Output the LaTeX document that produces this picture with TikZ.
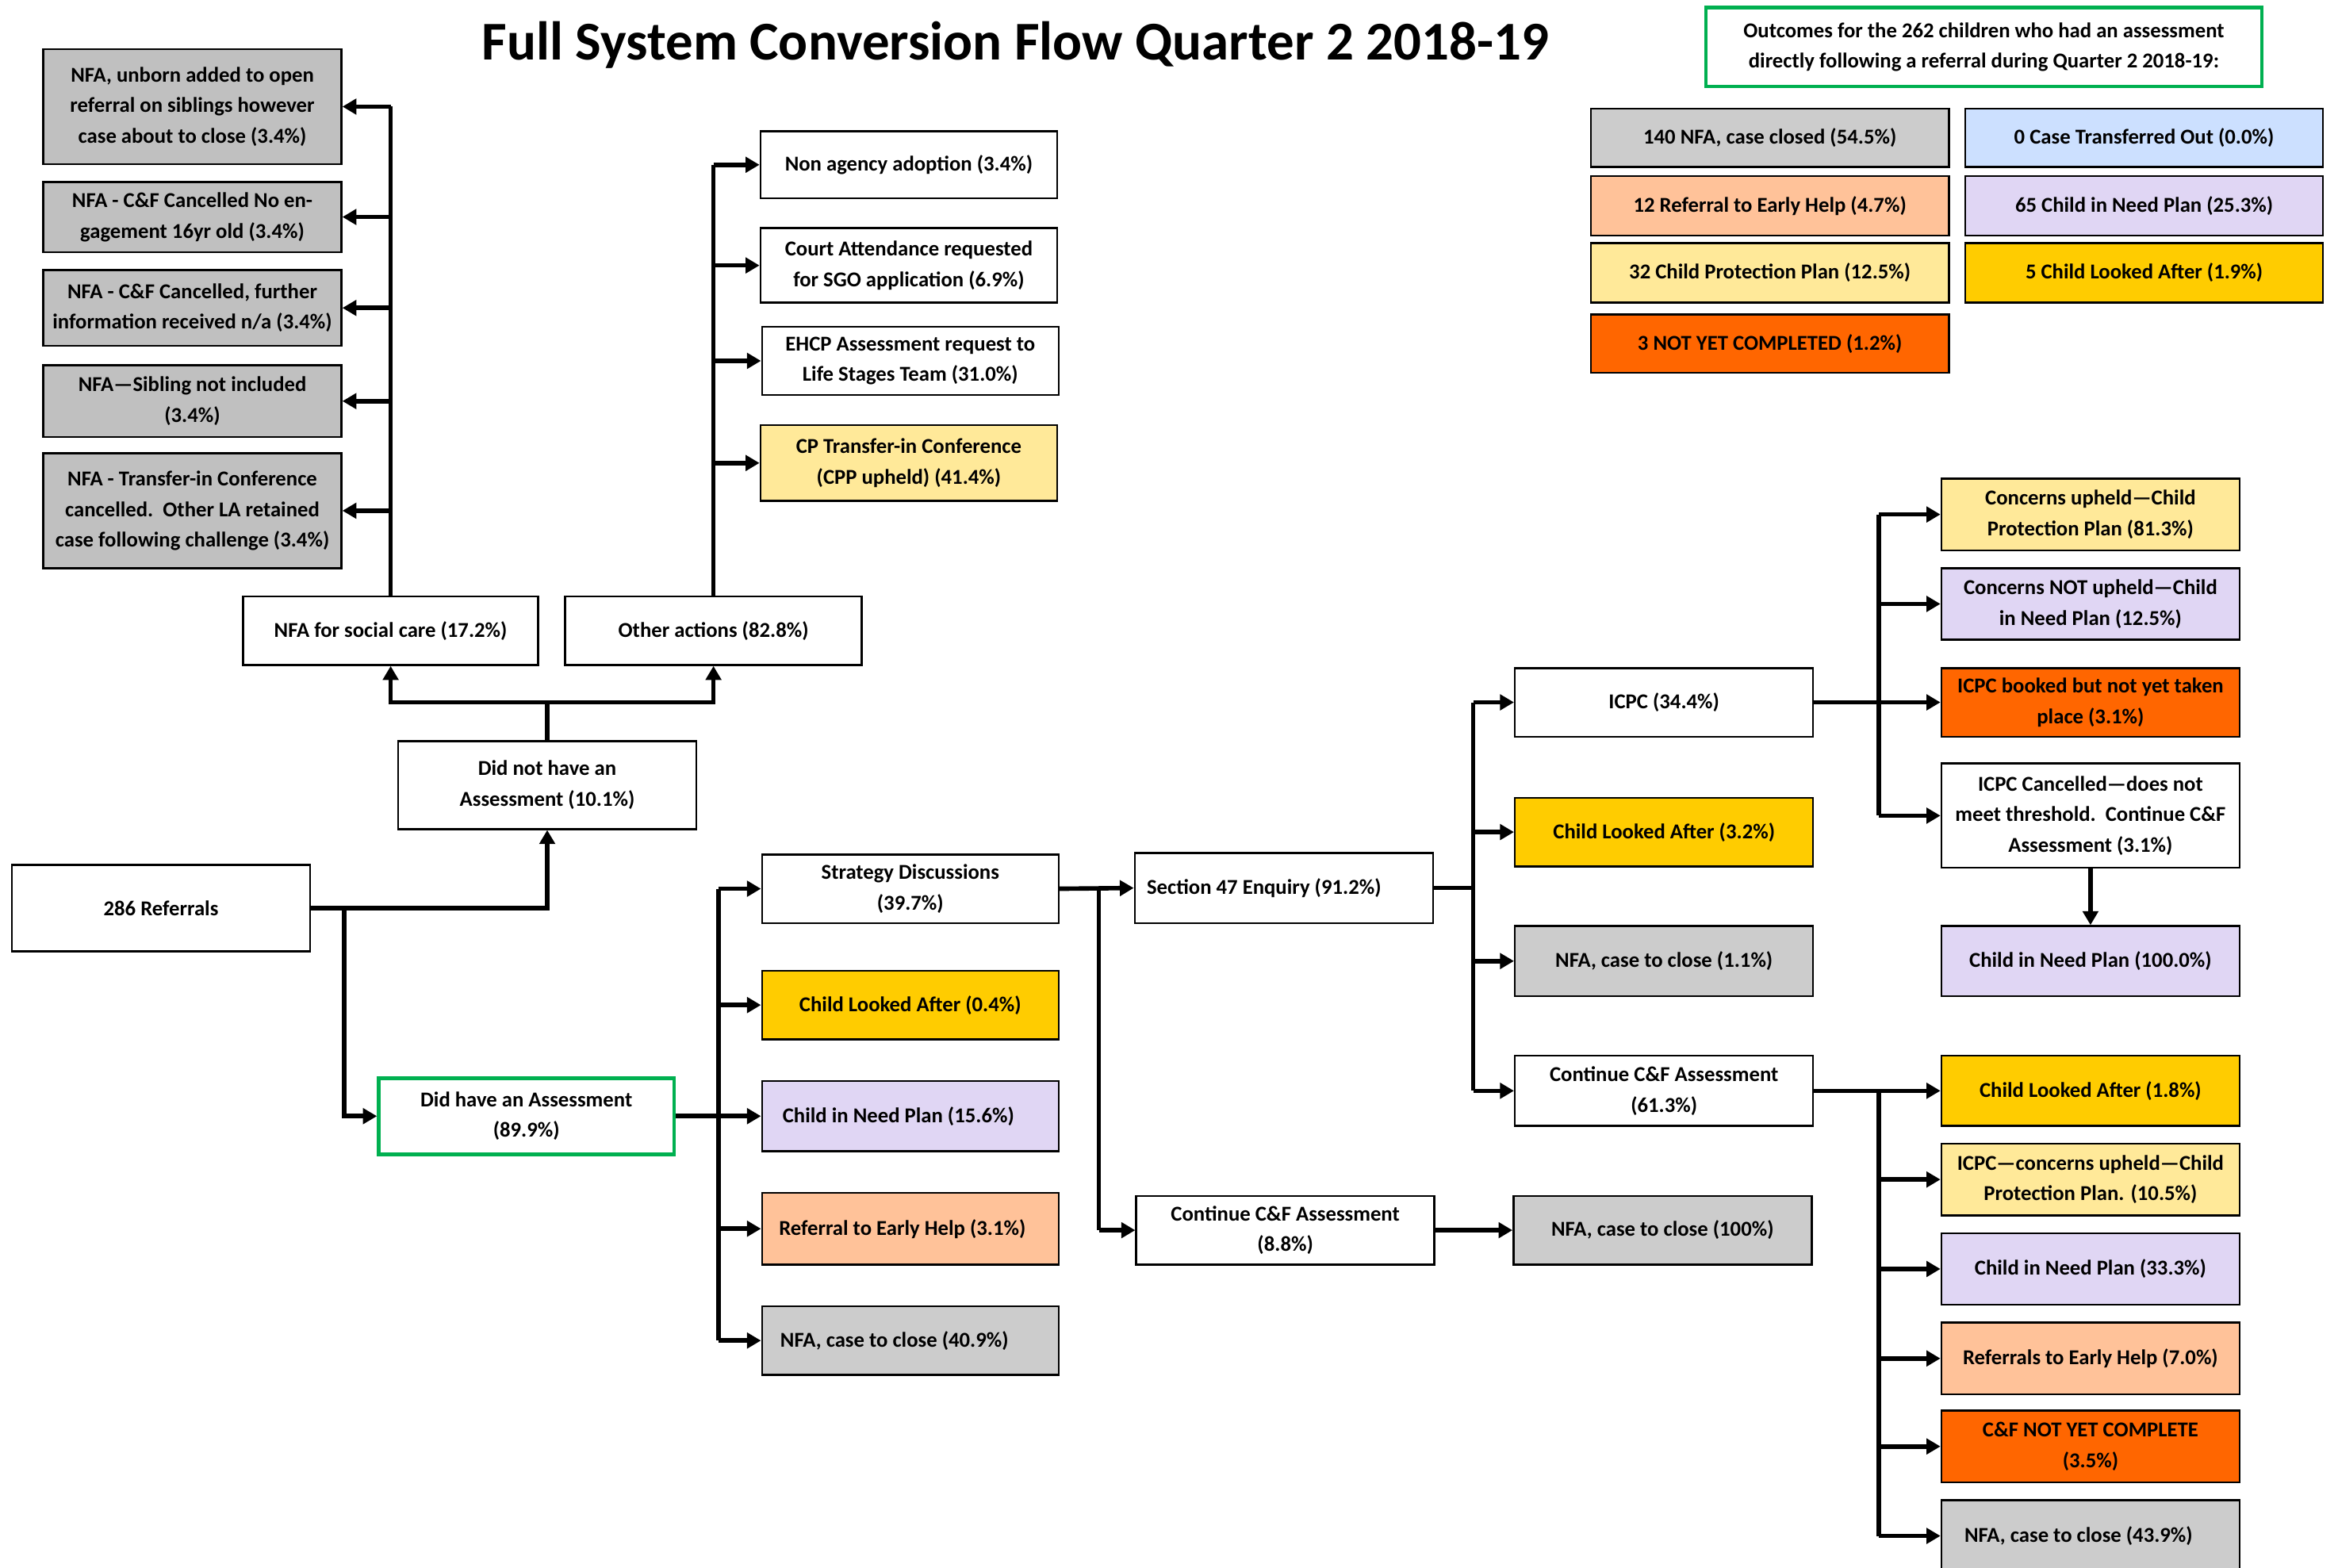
\documentclass[tikz,border=0pt]{standalone}
\usepackage{fontspec}
\setmainfont{Carlito}
\usetikzlibrary{arrows.meta}
\definecolor{cgrey}{HTML}{CCCCCC}
\definecolor{cgreyL}{HTML}{C0C0C0}
\definecolor{cyel}{HTML}{FFE999}
\definecolor{clav}{HTML}{E0D6F4}
\definecolor{cpeach}{HTML}{FFC299}
\definecolor{corange}{HTML}{FF6600}
\definecolor{cgold}{HTML}{FFCC00}
\definecolor{cblue}{HTML}{CCE0FF}
\definecolor{cgreen}{HTML}{00B050}
\newcommand{\B}[7]{\node[box,#6,minimum width={(#4-#2)*0.188mm},minimum height={(#5-#3)*0.188mm}] (#1) at ({(#2+#4)/2},{(#3+#5)/2}) {#7};}
\tikzset{
  box/.style={draw=black,line width=0.7pt,rectangle,inner sep=1pt,align=center,
    font=\fontsize{7.6}{11}\selectfont\bfseries},
  wbox/.style={fill=white},
  greybox/.style={fill=cgrey},
  greyL/.style={fill=cgreyL},
  yelbox/.style={fill=cyel},
  lavbox/.style={fill=clav},
  peachbox/.style={fill=cpeach},
  orbox/.style={fill=corange},
  goldbox/.style={fill=cgold},
  bluebox/.style={fill=cblue},
  greenbox/.style={fill=white,draw=cgreen,line width=1.3pt},
  conn/.style={line width=1.6pt,draw=black},
  arr/.style={conn,-{Triangle[length=5pt,width=5.5pt]}},
}
\begin{document}
\begin{tikzpicture}[x=0.188mm,y=-0.188mm]
\path[use as bounding box,fill=white] (0,0) rectangle (1568,1051.5);
\node[font=\fontsize{19.6}{24}\selectfont\bfseries] (title) at (681,30) {Full System Conversion Flow Quarter 2 2018-19};
% left NFA boxes
\B{n1}{29}{33}{229}{110}{greyL}{NFA, unborn added to open\\referral on siblings however\\case about to close (3.4\%)}
\B{n2}{29}{122}{229}{169}{greyL}{NFA - C\&F Cancelled No en-\\gagement 16yr old (3.4\%)}
\B{n3}{29}{181}{229}{232}{greyL}{NFA - C\&F Cancelled, further\\information received n/a (3.4\%)}
\B{n4}{29}{245}{229}{293}{greyL}{NFA—Sibling not included\\(3.4\%)}
\B{n5}{29}{304}{229}{381}{greyL}{NFA - Transfer-in Conference\\cancelled.\ \ Other LA retained\\case following challenge (3.4\%)}
\B{nfasc}{163}{400}{361}{446}{wbox}{NFA for social care (17.2\%)}
\B{oth}{379}{400}{578}{446}{wbox}{Other actions (82.8\%)}
\B{o1}{510}{88}{709}{133}{wbox}{Non agency adoption (3.4\%)}
\B{o2}{510}{153}{709}{203}{wbox}{Court Attendance requested\\for SGO application (6.9\%)}
\B{o3}{511}{219}{710}{265}{wbox}{EHCP Assessment request to\\Life Stages Team (31.0\%)}
\B{o4}{510}{285}{709}{336}{yelbox}{CP Transfer-in Conference\\(CPP upheld) (41.4\%)}
\B{dnh}{267}{497}{467}{556}{wbox}{Did not have an\\Assessment (10.1\%)}
\B{ref}{8}{580}{208}{638}{wbox}{286 Referrals}
\B{dh}{254}{723}{452}{774}{greenbox}{Did have an Assessment\\(89.9\%)}
\B{s1}{511}{573}{710}{619}{wbox}{Strategy Discussions\\(39.7\%)}
\B{s2}{511}{651}{710}{697}{goldbox}{Child Looked After (0.4\%)}
\B{s3}{511}{725}{710}{772}{lavbox}{Child in Need Plan (15.6\%)\hspace{3mm}}
\B{s4}{511}{800}{710}{848}{peachbox}{Referral to Early Help (3.1\%)\hspace{2mm}}
\B{s5}{511}{876}{710}{922}{greybox}{NFA, case to close (40.9\%)\hspace{4mm}}
\B{s47}{761}{572}{961}{619}{wbox}{Section 47 Enquiry (91.2\%)\hspace{5mm}}
\B{c88}{762}{802}{962}{848}{wbox}{Continue C\&F Assessment\\(8.8\%)}
\B{nfa100}{1015}{802}{1215}{848}{greybox}{NFA, case to close (100\%)}
\B{icpc}{1016}{448}{1216}{494}{wbox}{ICPC (34.4\%)}
\B{cla32}{1016}{535}{1216}{581}{goldbox}{Child Looked After (3.2\%)}
\B{nfa11}{1016}{621}{1216}{668}{greybox}{NFA, case to close (1.1\%)}
\B{c613}{1016}{708}{1216}{755}{wbox}{Continue C\&F Assessment\\(61.3\%)}
\B{cu}{1302}{321}{1502}{369}{yelbox}{Concerns upheld—Child\\Protection Plan (81.3\%)}
\B{cnu}{1302}{381}{1502}{429}{lavbox}{Concerns NOT upheld—Child\\in Need Plan (12.5\%)}
\B{ib}{1302}{448}{1502}{494}{orbox}{ICPC booked but not yet taken\\place (3.1\%)}
\B{ic}{1302}{512}{1502}{582}{wbox}{ICPC Cancelled—does not\\meet threshold.\ \ Continue C\&F\\Assessment (3.1\%)}
\B{cin100}{1302}{621}{1502}{668}{lavbox}{Child in Need Plan (100.0\%)}
\B{r1}{1302}{708}{1502}{755}{goldbox}{Child Looked After (1.8\%)}
\B{r2}{1302}{767}{1502}{815}{yelbox}{ICPC—concerns upheld—Child\\Protection Plan. (10.5\%)}
\B{r3}{1302}{827}{1502}{875}{lavbox}{Child in Need Plan (33.3\%)}
\B{r4}{1302}{887}{1502}{935}{peachbox}{Referrals to Early Help (7.0\%)}
\B{r5}{1302}{946}{1502}{994}{orbox}{C\&F NOT YET COMPLETE\\(3.5\%)}
\B{r6}{1302}{1006}{1502}{1054}{greybox}{NFA, case to close (43.9\%)\hspace{3mm}}
% legend
\B{out}{1144}{5}{1517}{58}{greenbox}{Outcomes for the 262 children who had an assessment\\directly following a referral during Quarter 2 2018-19:}
\B{l1}{1067}{73}{1307}{112}{greybox}{140 NFA, case closed (54.5\%)}
\B{l2}{1318}{73}{1558}{112}{bluebox}{0 Case Transferred Out (0.0\%)}
\B{l3}{1067}{118}{1307}{158}{peachbox}{12 Referral to Early Help (4.7\%)}
\B{l4}{1318}{118}{1558}{158}{lavbox}{65 Child in Need Plan (25.3\%)}
\B{l5}{1067}{163}{1307}{203}{yelbox}{32 Child Protection Plan (12.5\%)}
\B{l6}{1318}{163}{1558}{203}{goldbox}{5 Child Looked After (1.9\%)}
\B{l7}{1067}{211}{1307}{250}{orbox}{3 NOT YET COMPLETED (1.2\%)}
% connectors
\coordinate (rb) at (231,609);
\coordinate (db) at (367,471);
\coordinate (tdh) at (482,748.5);
\coordinate (tst) at (737,596);
\coordinate (t47) at (988,595.5);
\coordinate (ticpc) at (1260,471);
\coordinate (tc61) at (1260,731.5);
\draw[arr] (ref.east) -| (dnh.south);
\draw[arr] (rb) |- (dh.west);
\draw[conn] (dnh.north) -- (db);
\draw[arr] (db) -| (nfasc.south);
\draw[arr] (db) -| (oth.south);
% NFA for social care trunk
\draw[conn] (nfasc.north) -- (nfasc.north |- n1.east);
\foreach \n in {n1,n2,n3,n4,n5} \draw[arr] (nfasc.north |- \n.east) -- (\n.east);
% other actions trunk
\draw[conn] (oth.north) -- (oth.north |- o1.west);
\foreach \n in {o1,o2,o3,o4} \draw[arr] (oth.north |- \n.west) -- (\n.west);
% did have
\draw[conn] (dh.east) -- (tdh);
\draw[conn] (tdh |- s1.west) -- (tdh |- s5.west);
\foreach \n in {s1,s2,s3,s4,s5} \draw[arr] (tdh |- \n.west) -- (\n.west);
% strategy
\draw[arr] (s1.east) -- (s47.west);
\draw[conn] (tst) -- (tst |- c88.west);
\draw[arr] (tst |- c88.west) -- (c88.west);
\draw[arr] (c88.east) -- (nfa100.west);
% section 47
\draw[conn] (s47.east) -- (t47);
\draw[conn] (t47 |- icpc.west) -- (t47 |- c613.west);
\foreach \n in {icpc,cla32,nfa11,c613} \draw[arr] (t47 |- \n.west) -- (\n.west);
% ICPC
\draw[conn] (icpc.east) -- (ticpc);
\draw[conn] (ticpc |- cu.west) -- (ticpc |- ic.west);
\foreach \n in {cu,cnu,ib,ic} \draw[arr] (ticpc |- \n.west) -- (\n.west);
\draw[arr] (ic.south) -- (cin100.north);
% continue 61.3
\draw[conn] (c613.east) -- (tc61);
\draw[conn] (tc61 |- r1.west) -- (tc61 |- r6.west);
\foreach \n in {r1,r2,r3,r4,r5,r6} \draw[arr] (tc61 |- \n.west) -- (\n.west);
\end{tikzpicture}
\end{document}
